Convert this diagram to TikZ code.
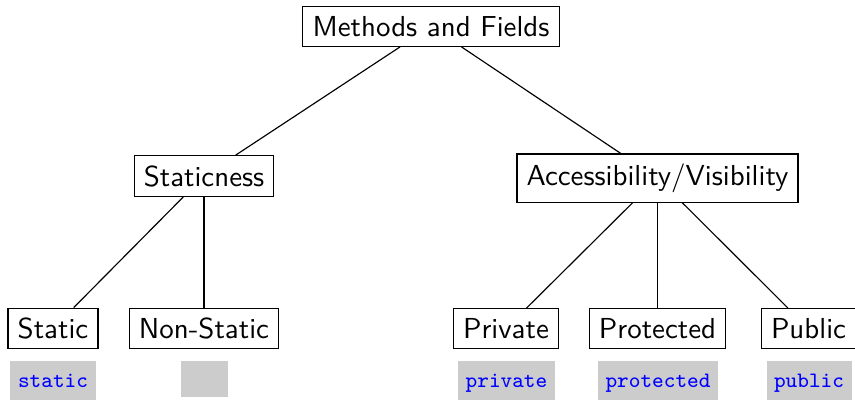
\documentclass[tikz,border=0pt]{standalone}
\usepackage{tikz}

\begin{document}
\begin{tikzpicture}[x=0.346pt, y=-0.346pt,
    box/.style={draw, font=\sffamily},
    code/.style={fill=black!20, text=blue, anchor=north, font=\ttfamily\fontsize{7.6}{9}\selectfont,
      inner xsep=2.6pt, inner ysep=4.2pt, text height=5pt, text depth=1.5pt}]
  \useasboundingbox (0,0) rectangle (855,399);
  % tree
  \node[box] (root) at (431,26.5) {Methods and Fields};
  \node[box] (stat) at (204,176) {Staticness};
  \node[box] (acc) at (657.5,178) {Accessibility/Visibility};
  \node[box] (static) at (53,328.5) {Static};
  \node[box] (nonstatic) at (204,328.5) {Non-Static};
  \node[box] (private) at (506,328.5) {Private};
  \node[box] (protected) at (657.5,328.5) {Protected};
  \node[box] (public) at (808.5,328.5) {Public};
  \draw (root) -- (stat);
  \draw (root) -- (acc);
  \draw (stat) -- (static);
  \draw (stat) -- (nonstatic);
  \draw (acc) -- (private);
  \draw (acc) -- (protected);
  \draw (acc) -- (public);
  % keywords
  \node[code] (kwstatic) at (53,360) {static};
  \node[fill=black!20, anchor=north, minimum width=16.3pt, minimum height=12.5pt, inner sep=0pt] (kwnone) at (204.5,360) {};
  \node[code] (kwprivate) at (506.5,360) {private};
  \node[code] (kwprotected) at (658,360) {protected};
  \node[code] (kwpublic) at (809,360) {public};
\end{tikzpicture}
\end{document}
